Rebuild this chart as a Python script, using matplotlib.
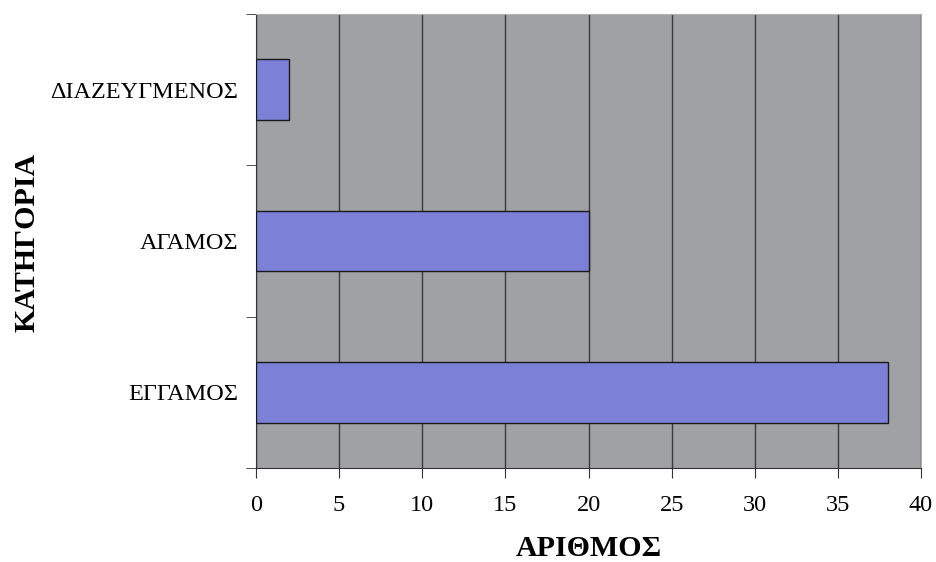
import matplotlib.pyplot as plt
from matplotlib.ticker import FixedLocator

categories = ["ΕΓΓΑΜΟΣ", "ΑΓΑΜΟΣ", "ΔΙΑΖΕΥΓΜΕΝΟΣ"]
values = [38, 20, 2]
x_ticks = [0, 5, 10, 15, 20, 25, 30, 35, 40]

plt.rcParams['font.family'] = ['Liberation Serif', 'DejaVu Serif']

fig = plt.figure(figsize=(9.36, 5.62), dpi=100)
ax = fig.add_axes([0.2735, 0.167, 0.7105, 0.808])
ax.set_facecolor("#a0a1a4")

ax.barh(range(len(categories)), values, height=0.4, color="#7c80d6",
        edgecolor="#1a1a1a", linewidth=1.0, zorder=3)

ax.set_xlim(0, 40)
ax.set_ylim(-0.5, len(categories) - 0.5)
ax.set_xticks(x_ticks)
ax.set_yticks(range(len(categories)))
ax.set_yticklabels(categories)
ax.yaxis.set_minor_locator(FixedLocator([-0.5, 0.5, 1.5, 2.5]))
ax.tick_params(axis="y", which="major", length=0, pad=13, labelsize=17.5)
ax.tick_params(axis="y", which="minor", length=7, direction="out", color="#333333")
ax.tick_params(axis="x", length=7, direction="out", color="#333333", labelsize=17.5, pad=12)

ax.grid(axis="x", color="#3a3a3a", linewidth=1.0, zorder=1)
for s in ["top", "right"]:
    ax.spines[s].set_color("#b0b0b0")
for s in ["left", "bottom"]:
    ax.spines[s].set_color("#333333")

ax.set_xlabel("ΑΡΙΘΜΟΣ", fontsize=21.5, fontweight="bold", labelpad=14)
ax.set_ylabel("ΚΑΤΗΓΟΡΙΑ", fontsize=21.5, fontweight="bold")
ax.yaxis.set_label_coords(-0.324, 0.498)

fig.savefig("out.png", dpi=100)
